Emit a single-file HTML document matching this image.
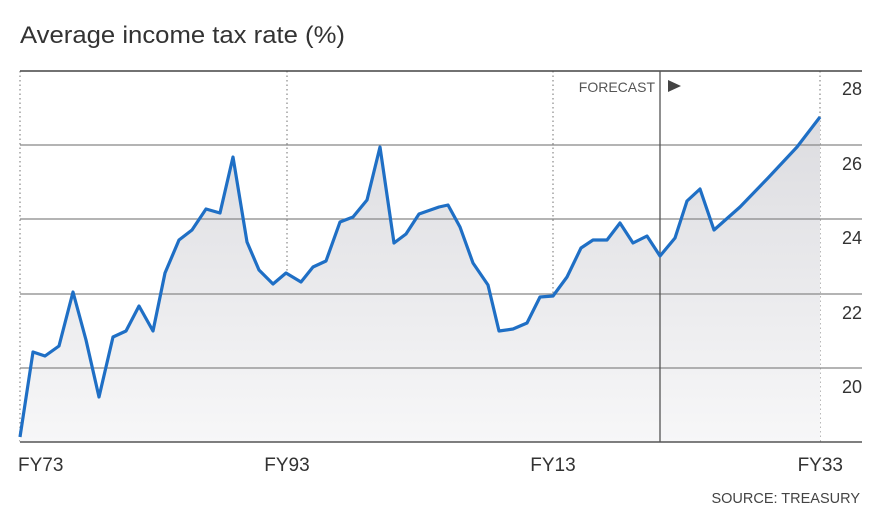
<!DOCTYPE html>
<html><head><meta charset="utf-8"><style>
body{margin:0;background:#fff;font-family:"Liberation Sans",sans-serif;}
</style></head><body>
<svg width="881" height="520" xmlns="http://www.w3.org/2000/svg" style="display:block">
<defs><linearGradient id="g" x1="0" y1="0" x2="0" y2="1"><stop offset="0" stop-color="#dcdce0"/><stop offset="1" stop-color="#f7f7f8"/></linearGradient></defs>
<text x="20" y="43" font-size="24" fill="#333" textLength="325" lengthAdjust="spacingAndGlyphs">Average income tax rate (%)</text>
<g stroke="#999" stroke-dasharray="1.5,3" stroke-width="1.4">
<line x1="20" y1="71" x2="20" y2="442"/><line x1="287" y1="71" x2="287" y2="442"/><line x1="553" y1="71" x2="553" y2="442"/><line x1="820" y1="71" x2="820" y2="442"/>
</g>
<path d="M20,437 L33,352 45,356 59,346 73,292 86,340 99,397 113,337 126,331 139,306 153,331 165,273 179,240 192,230 206,209 220,213 233,157 247,242 259,270 273,284 286,273 301,282 313,267 326,261 340,222 353,217 367,200 380,147 394,243 406,234 419,214 439,207 448,205 460,227 473,263 488,285 499,331 513,329 527,323 540,297 553,296 567,277 581,248 593,240 607,240 620,223 633,243 647,236 660,256 675,238 687,201 700,189 714,230 740,207 768,178 797,147 820,117 L820,442 L20,442 Z" fill="url(#g)"/>
<g stroke="#888" stroke-width="1.3">
<line x1="20" y1="145" x2="862" y2="145"/><line x1="20" y1="219" x2="862" y2="219"/><line x1="20" y1="294" x2="862" y2="294"/><line x1="20" y1="368" x2="862" y2="368"/>
</g>
<line x1="20" y1="71" x2="862" y2="71" stroke="#444" stroke-width="1.5"/>
<line x1="20" y1="442" x2="862" y2="442" stroke="#555" stroke-width="1.5"/>
<line x1="660" y1="71" x2="660" y2="442" stroke="#555" stroke-width="1.3"/>
<path d="M20,437 L33,352 45,356 59,346 73,292 86,340 99,397 113,337 126,331 139,306 153,331 165,273 179,240 192,230 206,209 220,213 233,157 247,242 259,270 273,284 286,273 301,282 313,267 326,261 340,222 353,217 367,200 380,147 394,243 406,234 419,214 439,207 448,205 460,227 473,263 488,285 499,331 513,329 527,323 540,297 553,296 567,277 581,248 593,240 607,240 620,223 633,243 647,236 660,256 675,238 687,201 700,189 714,230 740,207 768,178 797,147 820,117" fill="none" stroke="#1f6fc5" stroke-width="3.2" stroke-linejoin="round"/>
<text x="655" y="92" font-size="14" fill="#555" text-anchor="end">FORECAST</text>
<polygon points="668,80 681,86 668,92" fill="#444"/>
<g font-size="18" fill="#333" text-anchor="end">
<text x="862" y="95">28</text><text x="862" y="170">26</text><text x="862" y="244">24</text><text x="862" y="319">22</text><text x="862" y="393">20</text>
</g>
<g font-size="19" fill="#333">
<text x="18" y="471">FY73</text><text x="287" y="471" text-anchor="middle">FY93</text><text x="553" y="471" text-anchor="middle">FY13</text><text x="843" y="471" text-anchor="end">FY33</text>
</g>
<text x="860" y="503" font-size="14.5" fill="#444" text-anchor="end">SOURCE: TREASURY</text>
</svg>
</body></html>
